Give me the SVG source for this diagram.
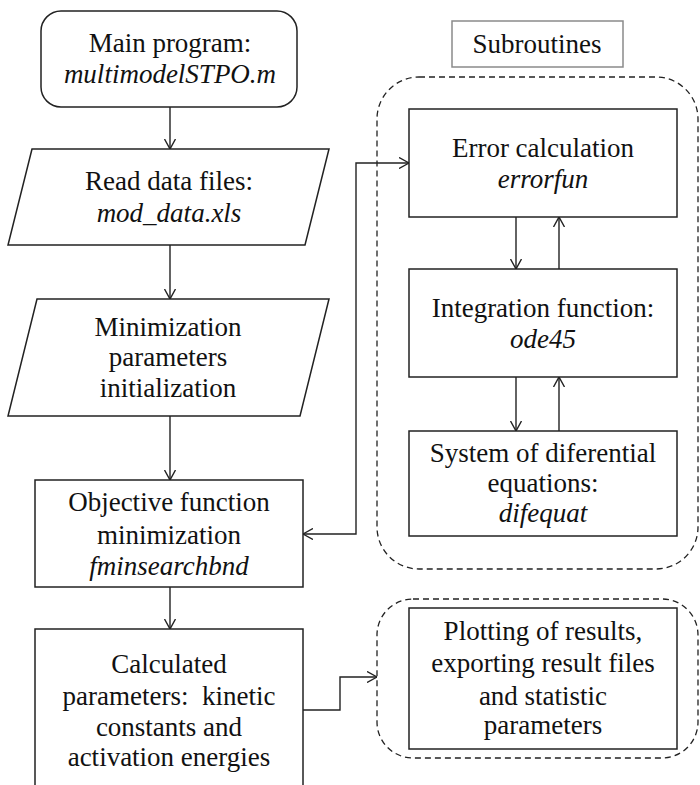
<svg xmlns="http://www.w3.org/2000/svg" width="700" height="785" viewBox="0 0 700 785">
  <style>
    .box { fill: #ffffff; stroke: #222222; stroke-width: 1.5; }
    .label { fill: #ffffff; stroke: #8a8a8a; stroke-width: 1.5; }
    .group { fill: none; stroke: #222222; stroke-width: 1.3; stroke-dasharray: 6 4; }
    .wire { fill: none; stroke: #222222; stroke-width: 1.4; }
    text { font-family: "Liberation Serif", "Times New Roman", serif; font-size: 27px; fill: #111111; text-anchor: middle; }
    .it { font-style: italic; }
  </style>
  <defs>
    <marker id="arrow" viewBox="0 0 10 12" refX="10" refY="6" markerWidth="10" markerHeight="12" markerUnits="userSpaceOnUse" orient="auto-start-reverse">
      <path d="M0,0.5 L10,6 L0,11.5" fill="none" stroke="#222222" stroke-width="1.4"/>
    </marker>
  </defs>

  <!-- dashed groupings -->
  <g id="subroutine-group">
    <rect class="group" x="377" y="77" width="321" height="492" rx="42" ry="42"/>
  </g>
  <g id="output-group">
    <rect class="group" x="377" y="599" width="321" height="159" rx="36" ry="36"/>
  </g>

  <!-- connectors -->
  <g id="connectors">
    <line class="wire" x1="170" y1="107" x2="170" y2="149" marker-end="url(#arrow)"/>
    <line class="wire" x1="170" y1="245" x2="170" y2="299" marker-end="url(#arrow)"/>
    <line class="wire" x1="170" y1="416" x2="170" y2="480" marker-end="url(#arrow)"/>
    <line class="wire" x1="170" y1="587" x2="170" y2="629" marker-end="url(#arrow)"/>
    <path class="wire" d="M303,534 H356 V163 H409" marker-start="url(#arrow)" marker-end="url(#arrow)"/>
    <line class="wire" x1="516" y1="217" x2="516" y2="269" marker-end="url(#arrow)"/>
    <line class="wire" x1="559" y1="269" x2="559" y2="217" marker-end="url(#arrow)"/>
    <line class="wire" x1="516" y1="377" x2="516" y2="431" marker-end="url(#arrow)"/>
    <line class="wire" x1="559" y1="431" x2="559" y2="377" marker-end="url(#arrow)"/>
    <path class="wire" d="M303,710 H340 V677 H377" marker-end="url(#arrow)"/>
  </g>

  <!-- main flow -->
  <g id="main-program">
    <rect class="box" x="41" y="11" width="256" height="96" rx="20" ry="20"/>
    <text x="170" y="52">Main program:</text>
    <text class="it" x="170" y="83">multimodelSTPO.m</text>
  </g>
  <g id="read-data">
    <polygon class="box" points="32,149 329,149 305,245 8,245"/>
    <text x="169" y="190">Read data files:</text>
    <text class="it" x="169" y="222">mod_data.xls</text>
  </g>
  <g id="init-params">
    <polygon class="box" points="37,299 329,299 300,416 8,416"/>
    <text x="168" y="336">Minimization</text>
    <text x="168" y="366">parameters</text>
    <text x="168" y="397">initialization</text>
  </g>
  <g id="objective">
    <rect class="box" x="35" y="480" width="268" height="107"/>
    <text x="169" y="511">Objective function</text>
    <text x="169" y="544">minimization</text>
    <text class="it" x="169" y="575">fminsearchbnd</text>
  </g>
  <g id="calculated">
    <rect class="box" x="35" y="629" width="268" height="170"/>
    <text x="169" y="673">Calculated</text>
    <text x="169" y="705" xml:space="preserve">parameters:  kinetic</text>
    <text x="169" y="736">constants and</text>
    <text x="169" y="766">activation energies</text>
  </g>

  <!-- subroutines -->
  <g id="subroutines-label">
    <rect class="label" x="452" y="21" width="171" height="46"/>
    <text x="537" y="53">Subroutines</text>
  </g>
  <g id="error-calc">
    <rect class="box" x="409" y="109" width="268" height="108"/>
    <text x="543" y="157">Error calculation</text>
    <text class="it" x="543" y="188">errorfun</text>
  </g>
  <g id="integration">
    <rect class="box" x="409" y="269" width="268" height="108"/>
    <text x="543" y="317">Integration function:</text>
    <text class="it" x="543" y="348">ode45</text>
  </g>
  <g id="diff-system">
    <rect class="box" x="409" y="431" width="268" height="105"/>
    <text x="543" y="462">System of diferential</text>
    <text x="543" y="492">equations:</text>
    <text class="it" x="543" y="522">difequat</text>
  </g>
  <g id="plotting">
    <rect class="box" x="409" y="608" width="268" height="141"/>
    <text x="543" y="640">Plotting of results,</text>
    <text x="543" y="672">exporting result files</text>
    <text x="543" y="705">and statistic</text>
    <text x="543" y="734">parameters</text>
  </g>
</svg>
